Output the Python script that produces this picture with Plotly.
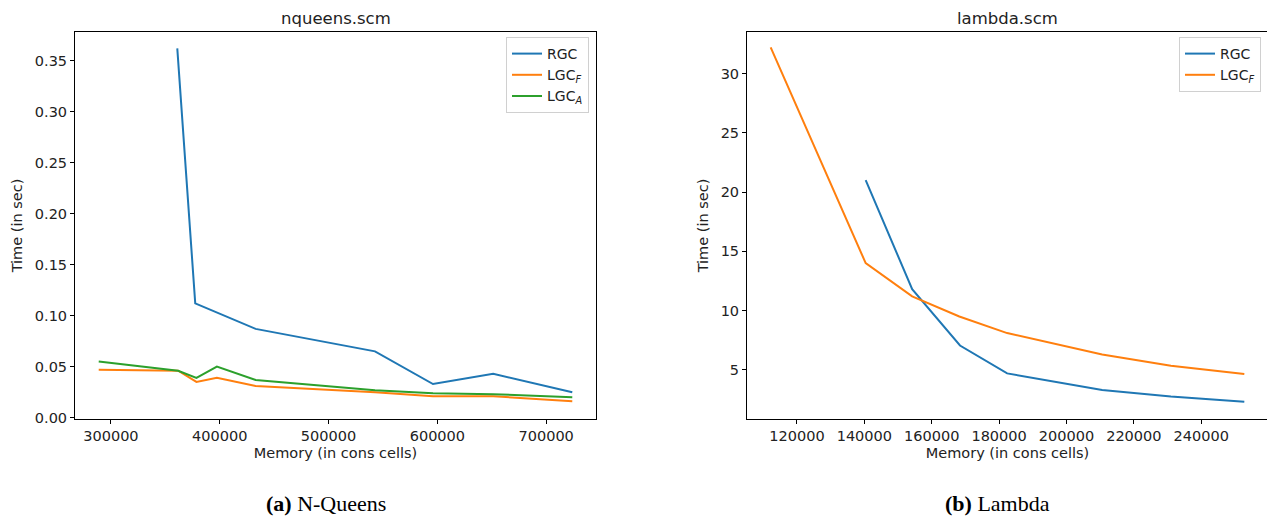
import plotly.graph_objects as go

# ---- data: nqueens.scm ----
nq_rgc_mem = [361000, 377500, 433000, 542700, 596000, 651300, 724000]
nq_rgc_time = [0.362, 0.112, 0.087, 0.065, 0.033, 0.043, 0.025]

nq_lgcf_mem = [288800, 361800, 378600, 397400, 433000, 542700, 596000, 651300, 724000]
nq_lgcf_time = [0.047, 0.046, 0.035, 0.039, 0.031, 0.025, 0.021, 0.021, 0.016]

nq_lgca_mem = [288800, 361800, 378600, 397400, 433000, 542700, 596000, 651300, 724000]
nq_lgca_time = [0.055, 0.046, 0.039, 0.050, 0.037, 0.027, 0.024, 0.023, 0.020]

# ---- data: lambda.scm ----
lb_rgc_mem = [140400, 154200, 168400, 182400, 210600, 231000, 252800]
lb_rgc_time = [21.0, 11.8, 7.05, 4.7, 3.3, 2.75, 2.3]

lb_lgcf_mem = [112200, 140400, 154200, 168200, 182400, 210600, 231000, 252800]
lb_lgcf_time = [32.2, 14.0, 11.2, 9.5, 8.1, 6.3, 5.35, 4.65]

series_names = ["RGC", "LGC<sub><i>F</i></sub>", "LGC<sub><i>A</i></sub>"]
colors = ["#1f77b4", "#ff7f0e", "#2ca02c"]

# page body has an 8px default margin; size the figure to the remaining area
OFF = 8
W, H = 1275 - OFF, 519 - OFF
fig = go.Figure()

def px_x(p):
    return (p - OFF) / W

def px_y(p):
    return 1 - (p - OFF) / H

lw = 2
fig.add_trace(go.Scatter(x=nq_rgc_mem, y=nq_rgc_time, mode="lines", name=series_names[0],
                         line=dict(color=colors[0], width=lw), xaxis="x", yaxis="y", legend="legend"))
fig.add_trace(go.Scatter(x=nq_lgcf_mem, y=nq_lgcf_time, mode="lines", name=series_names[1],
                         line=dict(color=colors[1], width=lw), xaxis="x", yaxis="y", legend="legend"))
fig.add_trace(go.Scatter(x=nq_lgca_mem, y=nq_lgca_time, mode="lines", name=series_names[2],
                         line=dict(color=colors[2], width=lw), xaxis="x", yaxis="y", legend="legend"))
fig.add_trace(go.Scatter(x=lb_rgc_mem, y=lb_rgc_time, mode="lines", name=series_names[0],
                         line=dict(color=colors[0], width=lw), xaxis="x2", yaxis="y2", legend="legend2"))
fig.add_trace(go.Scatter(x=lb_lgcf_mem, y=lb_lgcf_time, mode="lines", name=series_names[1],
                         line=dict(color=colors[1], width=lw), xaxis="x2", yaxis="y2", legend="legend2"))

tick_font = dict(family="DejaVu Sans", size=14.5, color="#222")
title_font = dict(family="DejaVu Sans", size=14.5, color="#222")
axis_common = dict(showline=True, linecolor="black", linewidth=1, mirror=True,
                   ticks="outside", ticklen=4, tickcolor="black", showgrid=False,
                   zeroline=False, tickfont=tick_font, automargin=False)

y_dom = [px_y(419), px_y(32)]
leg_font = dict(family="DejaVu Sans", size=14, color="#222")

fig.update_layout(
    width=W, height=H,
    margin=dict(l=0, r=0, t=0, b=0),
    paper_bgcolor="white", plot_bgcolor="white",
    showlegend=True,
    xaxis=dict(domain=[px_x(75), px_x(596)], range=[267000, 745800], dtick=100000,
               tickformat="d", anchor="y",
               title=dict(text="Memory (in cons cells)", font=title_font, standoff=4),
               **axis_common),
    yaxis=dict(domain=y_dom, range=[-0.0013, 0.378], dtick=0.05, tickformat=".2f",
               anchor="x",
               title=dict(text="Time (in sec)", font=title_font, standoff=8),
               **axis_common),
    xaxis2=dict(domain=[px_x(747), px_x(1268)], range=[105170, 259830], dtick=20000,
                tickformat="d", anchor="y2",
                title=dict(text="Memory (in cons cells)", font=title_font, standoff=4),
                **axis_common),
    yaxis2=dict(domain=y_dom, range=[0.85, 33.5], tick0=5, dtick=5, anchor="x2",
                title=dict(text="Time (in sec)", font=title_font, standoff=8),
                **axis_common),
    legend=dict(x=px_x(589), y=px_y(37), xanchor="right", yanchor="top",
                bgcolor="rgba(255,255,255,0.8)", bordercolor="#d0d0d0", borderwidth=1,
                font=leg_font, tracegroupgap=2, itemwidth=30),
    legend2=dict(x=px_x(1261), y=px_y(37), xanchor="right", yanchor="top",
                 bgcolor="rgba(255,255,255,0.8)", bordercolor="#d0d0d0", borderwidth=1,
                 font=leg_font, tracegroupgap=2, itemwidth=30),
    annotations=[
        dict(text="nqueens.scm", x=(px_x(75) + px_x(596)) / 2, y=1.0, xref="paper", yref="paper",
             showarrow=False, xanchor="center", yanchor="top", borderpad=0,
             font=dict(family="DejaVu Sans", size=16.5, color="#222")),
        dict(text="lambda.scm", x=(px_x(747) + px_x(1268)) / 2, y=1.0, xref="paper", yref="paper",
             showarrow=False, xanchor="center", yanchor="top", borderpad=0,
             font=dict(family="DejaVu Sans", size=16.5, color="#222")),
        dict(text="<b>(a)</b> N-Queens", x=px_x(326), y=px_y(503), xref="paper", yref="paper",
             showarrow=False, xanchor="center", yanchor="middle",
             font=dict(family="Liberation Serif", size=22, color="black")),
        dict(text="<b>(b)</b> Lambda", x=px_x(997), y=px_y(503), xref="paper", yref="paper",
             showarrow=False, xanchor="center", yanchor="middle",
             font=dict(family="Liberation Serif", size=22, color="black")),
    ],
)

fig.write_html("out.html")
